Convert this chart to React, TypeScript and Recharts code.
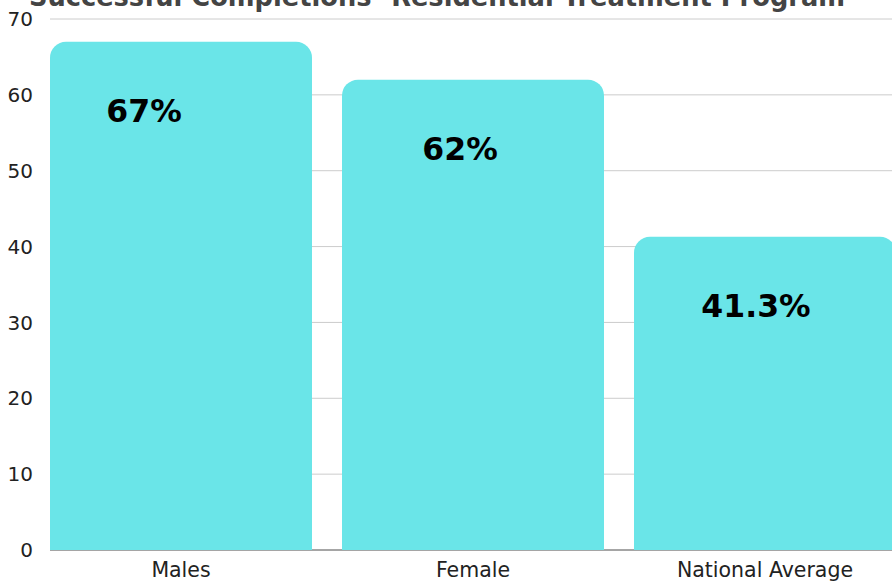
import { Bar, BarChart, CartesianGrid, LabelList, XAxis, YAxis } from "recharts";

const categories = ["Males", "Female", "National Average"];
const completionRates = [67, 62, 41.3];
const rateLabels = ["67%", "62%", "41.3%"];
const yTicks = [0, 10, 20, 30, 40, 50, 60, 70];

const data = categories.map((name, i) => ({
  name,
  value: completionRates[i],
  label: rateLabels[i],
}));

// labels sit a bit left of bar centre in the original
const LABEL_NUDGE = [-37, -13, -9];

const BarLabel = (props: any) => {
  const { x, y, width, index, value } = props;
  const cx = Number(x) + Number(width) / 2 + (LABEL_NUDGE[index] ?? 0);
  return (
    <text
      x={cx}
      y={Number(y) + 80}
      textAnchor="middle"
      fontFamily="DejaVu Sans"
      fontWeight="bold"
      fontSize={31.5}
      fill="#000"
    >
      {value}
    </text>
  );
};

export default function App() {
  return (
    <div style={{ position: "absolute", left: 0, top: 0, width: 892, height: 582, background: "#fff" }}>
      <div
        style={{
          position: "absolute",
          left: -9,
          top: -18,
          width: 892,
          textAlign: "center",
          fontFamily: "DejaVu Sans",
          fontWeight: "bold",
          fontSize: 25.7,
          lineHeight: "30px",
          color: "#444",
          whiteSpace: "nowrap",
        }}
      >
        Successful Completions- Residential Treatment Program
      </div>
      <BarChart
        width={892}
        height={582}
        data={data}
        margin={{ top: 19, right: 0, bottom: 0, left: 0 }}
        barCategoryGap={15}
      >
        <CartesianGrid vertical={false} stroke="#cccccc" />
        {/* baseline under the bars, only visible in the gaps */}
        <CartesianGrid vertical={false} horizontalValues={[0]} stroke="#666" />
        <XAxis
          dataKey="name"
          height={32}
          padding={{ left: -15, right: -19 }}
          tickLine={false}
          tickSize={0}
          tickMargin={12}
          axisLine={false}
          tick={{ fontFamily: "DejaVu Sans", fontSize: 20.5, fill: "#222" }}
          interval={0}
        />
        <YAxis
          width={50}
          domain={[0, 70]}
          ticks={yTicks}
          axisLine={false}
          tickLine={false}
          tickSize={0}
          tickMargin={17}
          tick={{ fontFamily: "DejaVu Sans", fontSize: 20, fill: "#222" }}
        />
        <Bar dataKey="value" fill="#6ae5e8" radius={[16, 16, 0, 0]} isAnimationActive={false}>
          <LabelList dataKey="label" content={BarLabel} />
        </Bar>
      </BarChart>
    </div>
  );
}
